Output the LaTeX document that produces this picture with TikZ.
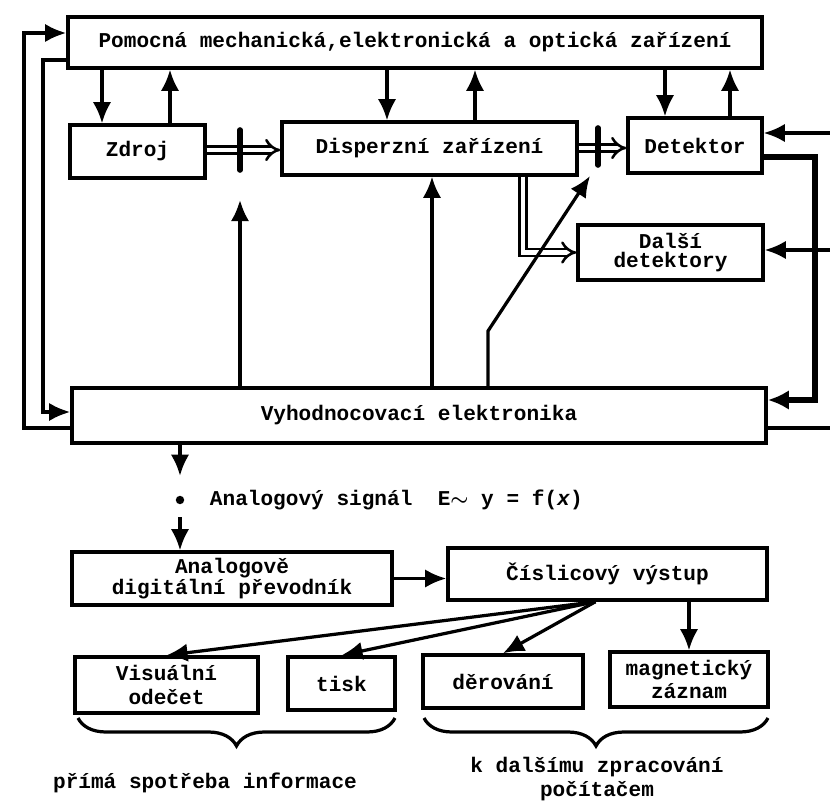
\documentclass[tikz,border=0pt]{standalone}
\usepackage{fontspec}
\setmonofont{Liberation Mono}
\usetikzlibrary{arrows.meta,decorations.pathreplacing}

\begin{document}
\begin{tikzpicture}[x=0.025cm,y=-0.025cm,>=Latex,
  font=\ttfamily\bfseries\fontsize{15}{17}\selectfont,
  box/.style={draw,line width=2.4pt,inner sep=2pt,align=center},
  arr/.style={-{Latex[length=15pt,width=13pt]},line width=2.3pt},
  ln/.style={line width=2.3pt},
  heavy/.style={-{Latex[length=15pt,width=14pt]},line width=3.8pt},
  beam/.style={double,line width=1.8pt,double distance=3.5pt,-{Implies}},
  slit/.style={line width=4pt,line cap=round},
  brc/.style={decorate,decoration={brace,mirror,amplitude=0.7cm},line width=2.3pt}]
\useasboundingbox (0,0) rectangle (830,801);
% blocks of the spectrometer
\node[box,minimum width=17.35cm,minimum height=1.275cm] (pom) at (415,42.5)
  {Pomocná mechanická,elektronická a optická zařízení};
\node[box,minimum width=3.375cm,minimum height=1.325cm] (zdroj) at (137.5,151.5) {Zdroj};
\node[box,minimum width=7.375cm,minimum height=1.325cm] (disp) at (429.5,148.5) {Disperzní zařízení};
\node[box,minimum width=3.35cm,minimum height=1.375cm] (det) at (695,145.5) {Detektor};
\node[box,minimum width=4.625cm,minimum height=1.375cm,
      font=\ttfamily\bfseries\fontsize{15}{14}\selectfont] (dalsi) at (670.5,252.5) {Další\\detektory};
\node[box,minimum width=17.35cm,minimum height=1.375cm] (vyh) at (419,415.5)
  {Vyhodnocovací elektronika};
% signal and output chain
\node[circle,fill,inner sep=0pt,minimum size=6pt] (dot) at (180,500) {};
\node[anchor=west] (sig) at (205,500)
  {Analogový signál\ \ E{\boldmath$\sim$} y = f(\textit{x})};
\node[box,minimum width=8cm,minimum height=1.325cm,
      font=\ttfamily\bfseries\fontsize{15}{13}\selectfont] (adc) at (232,578.5)
  {Analogově\\digitální převodník};
\node[box,minimum width=7.975cm,minimum height=1.3cm] (cis) at (607.5,574) {Číslicový výstup};
\node[box,minimum width=4.575cm,minimum height=1.4cm] (vis) at (166.5,685) {Visuální\\odečet};
\node[box,minimum width=2.675cm,minimum height=1.325cm] (tisk) at (341.5,683.5) {tisk};
\node[box,minimum width=4cm,minimum height=1.325cm] (der) at (503,681.5) {děrování};
\node[box,minimum width=3.95cm,minimum height=1.375cm] (mag) at (689,679.5) {magnetický\\záznam};
\node (prima) at (205,783) {přímá spotřeba informace};
\node[align=center] (dalsizpr) at (597,779) {k dalšímu zpracování\\počítačem};
% free ends
\coordinate (s1) at (240,200);
\coordinate (s2) at (590,176);
\coordinate (r1) at (830,133);
\coordinate (r2) at (830,250);
\coordinate (r3) at (830,428);
% auxiliary devices <-> blocks
\draw[arr] (pom.south -| 102,0) -- (zdroj.north -| 102,0);
\draw[arr] (zdroj.north -| 170,0) -- (pom.south -| 170,0);
\draw[arr] (pom.south -| 387,0) -- (disp.north -| 387,0);
\draw[arr] (disp.north -| 475,0) -- (pom.south -| 475,0);
\draw[arr] (pom.south -| 665,0) -- (det.north -| 665,0);
\draw[arr] (det.north -| 730,0) -- (pom.south -| 730,0);
% light path
\draw[beam] (zdroj.east |- 0,150) -- (disp.west |- 0,150);
\draw[beam] (disp.east |- 0,148) -- (det.west |- 0,148);
\draw[beam] (disp.south -| 523,0) |- (dalsi.west);
\draw[slit] (240,130) -- (240,170);
\draw[slit] (598,128) -- (598,165);
% evaluation electronics
\draw[arr] (vyh.north -| s1) -- (s1);
\draw[arr] (vyh.north -| 432,0) -- (disp.south -| 432,0);
\draw[arr] (vyh.north -| 488,0) -- (488,331) -- (s2);
\draw[arr] (r1) -- (r1 -| det.east);
\draw[arr] (r2) -- (r2 -| dalsi.east);
\draw[heavy] (det.east |- 0,157) -- (815,157) -- (815,400) -- (vyh.east |- 0,400);
\draw[ln] (vyh.east |- r3) -- (r3);
\draw[arr] (vyh.west |- 0,428) -- (24,428) -- (24,33) -- (pom.west |- 0,33);
\draw[arr] (pom.west |- 0,60) -- (43,60) -- (43,412) -- (vyh.west |- 0,412);
% output
\draw[arr,shorten >=14pt] (vyh.south -| dot) -- (dot);
\draw[arr,shorten <=9pt] (dot) -- (adc.north -| dot);
\draw[arr] (adc.east) -- (adc.east -| cis.west);
\draw[arr] ([xshift=-0.3cm]cis.south) -- (vis.north);
\draw[arr] ([xshift=-0.3cm]cis.south) -- (tisk.north);
\draw[arr] ([xshift=-0.3cm]cis.south) -- (der.north);
\draw[arr] (cis.south -| mag.north) -- (mag.north);
\draw[brc] (78,718) -- (395,718);
\draw[brc] (424,718) -- (768,718);
\end{tikzpicture}
\end{document}
